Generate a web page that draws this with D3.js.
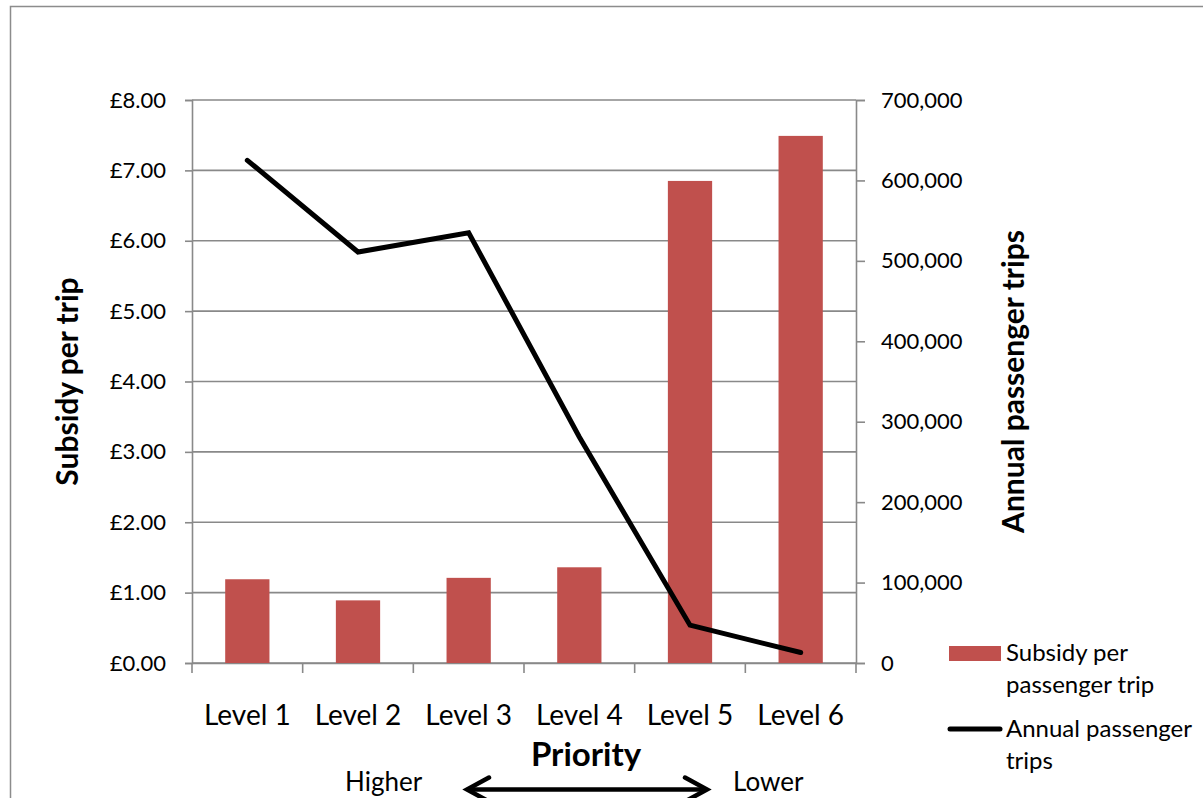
<!DOCTYPE html>
<html>
<head>
<meta charset="utf-8">
<script src="https://cdn.jsdelivr.net/npm/d3@7/dist/d3.min.js"></script>
<style>
  html, body { margin: 0; padding: 0; background: #fff; }
  svg { display: block; font-family: Lato, "Open Sans", sans-serif; }
</style>
</head>
<body>
<svg id="chart" width="1203" height="798"></svg>
<script>
// Priority levels and their figures
const levels = ["Level 1", "Level 2", "Level 3", "Level 4", "Level 5", "Level 6"];
const subsidyPerTrip = [1.19, 0.89, 1.21, 1.36, 6.85, 7.49];
const annualTrips = [625000, 511000, 535000, 281000, 47000, 13000];
const subsidyTicks = [0, 1, 2, 3, 4, 5, 6, 7, 8];
const tripTicks = [0, 100000, 200000, 300000, 400000, 500000, 600000, 700000];
const legendLabels = [["Subsidy per", "passenger trip"], ["Annual passenger", "trips"]];

const svg = d3.select("#chart");
const W = 1203, H = 798;
const plot = { left: 192, right: 856, top: 100, bottom: 663 };
const gridColor = "#898989";
const barColor = "#C0504D";

// outer frame
svg.append("rect")
  .attr("x", 10.5).attr("y", 6.5)
  .attr("width", W + 20).attr("height", H + 20)
  .attr("fill", "none").attr("stroke", "#8c8c8c").attr("stroke-width", 1.5);

const x = d3.scaleBand().domain(levels).range([plot.left, plot.right]).padding(0);
const yL = d3.scaleLinear().domain([0, 8]).range([plot.bottom, plot.top]);
const yR = d3.scaleLinear().domain([0, 700000]).range([plot.bottom, plot.top]);

// horizontal gridlines
svg.append("g")
  .selectAll("line").data(subsidyTicks).join("line")
  .attr("x1", plot.left).attr("x2", plot.right)
  .attr("y1", d => yL(d)).attr("y2", d => yL(d))
  .attr("stroke", gridColor).attr("stroke-width", 1.6);

// left axis
const fmtGBP = d => "£" + d3.format(".2f")(d);
const gL = svg.append("g").attr("transform", `translate(${plot.left},0)`)
  .call(d3.axisLeft(yL).tickValues(subsidyTicks).tickFormat(fmtGBP).tickSize(7).tickPadding(19));
gL.select(".domain").attr("stroke", gridColor).attr("stroke-width", 1.6);
gL.selectAll(".tick line").attr("stroke", gridColor).attr("stroke-width", 1.6);
gL.selectAll(".tick text").attr("font-size", 22).attr("fill", "#000")
  .attr("font-family", "Lato, sans-serif");

// right axis
const gR = svg.append("g").attr("transform", `translate(${plot.right},0)`)
  .call(d3.axisRight(yR).tickValues(tripTicks).tickFormat(d3.format(",")).tickSize(9).tickPadding(16));
gR.select(".domain").attr("stroke", gridColor).attr("stroke-width", 1.6);
gR.selectAll(".tick line").attr("stroke", gridColor).attr("stroke-width", 1.6);
gR.selectAll(".tick text").attr("font-size", 22).attr("fill", "#000")
  .attr("font-family", "Lato, sans-serif");

// bottom axis: category labels centred, tick marks on band boundaries
const gB = svg.append("g").attr("transform", `translate(0,${plot.bottom})`)
  .call(d3.axisBottom(x).tickSize(0).tickPadding(56));
gB.select(".domain").attr("stroke", gridColor).attr("stroke-width", 1.6);
gB.selectAll(".tick text").attr("font-size", 28).attr("fill", "#000")
  .attr("font-family", "Lato, sans-serif").attr("dy", "0.2em");
const boundaries = levels.map(d => x(d)).concat([x(levels[levels.length - 1]) + x.bandwidth()]);
svg.append("g").selectAll("line").data(boundaries).join("line")
  .attr("x1", d => d).attr("x2", d => d)
  .attr("y1", plot.bottom).attr("y2", plot.bottom + 10)
  .attr("stroke", gridColor).attr("stroke-width", 1.6);

// bars
const barW = x.bandwidth() * 0.4;
svg.append("g").selectAll("rect").data(levels).join("rect")
  .attr("x", d => x(d) + (x.bandwidth() - barW) / 2)
  .attr("width", barW)
  .attr("y", (d, i) => yL(subsidyPerTrip[i]))
  .attr("height", (d, i) => plot.bottom - yL(subsidyPerTrip[i]))
  .attr("fill", barColor);

// trips line
const line = d3.line()
  .x((d, i) => x(levels[i]) + x.bandwidth() / 2)
  .y(d => yR(d));
svg.append("path").datum(annualTrips)
  .attr("d", line)
  .attr("fill", "none").attr("stroke", "#000").attr("stroke-width", 5)
  .attr("stroke-linejoin", "miter").attr("stroke-linecap", "round");

// axis titles
const midY = (plot.top + plot.bottom) / 2;
svg.append("text")
  .attr("transform", `translate(78,${midY}) rotate(-90)`)
  .attr("text-anchor", "middle").attr("font-weight", 700).attr("font-size", 30)
  .text("Subsidy per trip");
svg.append("text")
  .attr("transform", `translate(1024,${midY}) rotate(-90)`)
  .attr("text-anchor", "middle").attr("font-weight", 700).attr("font-size", 30)
  .text("Annual passenger trips");
svg.append("text")
  .attr("x", 586).attr("y", 766)
  .attr("text-anchor", "middle").attr("font-weight", 700).attr("font-size", 33)
  .text("Priority");

// priority direction: Higher <-> Lower
svg.append("text").attr("x", 345).attr("y", 791).attr("font-size", 26).text("Higher");
svg.append("text").attr("x", 733).attr("y", 791).attr("font-size", 26).text("Lower");
const ay = 789.5, ax1 = 467, ax2 = 707;
svg.append("line").attr("x1", ax1 + 2).attr("x2", ax2 - 2).attr("y1", ay).attr("y2", ay)
  .attr("stroke", "#000").attr("stroke-width", 4.5);
svg.append("path")
  .attr("d", `M${ax1 + 22},${ay - 12} L${ax1},${ay} L${ax1 + 22},${ay + 12}` +
             `M${ax2 - 22},${ay - 12} L${ax2},${ay} L${ax2 - 22},${ay + 12}`)
  .attr("fill", "none").attr("stroke", "#000").attr("stroke-width", 4.5)
  .attr("stroke-linejoin", "miter").attr("stroke-linecap", "round");

// legend
const lg = svg.append("g");
lg.append("rect").attr("x", 949).attr("y", 646).attr("width", 52).attr("height", 15).attr("fill", barColor);
lg.append("line").attr("x1", 950).attr("x2", 1000).attr("y1", 729).attr("y2", 729)
  .attr("stroke", "#000").attr("stroke-width", 5).attr("stroke-linecap", "round");
const legendBase = [661, 737];
legendLabels.forEach((lines, k) => {
  const t = lg.append("text").attr("x", 1006).attr("y", legendBase[k]).attr("font-size", 24);
  lines.forEach((s, j) => t.append("tspan").attr("x", 1006).attr("dy", j === 0 ? 0 : 32).text(s));
});
</script>
</body>
</html>
